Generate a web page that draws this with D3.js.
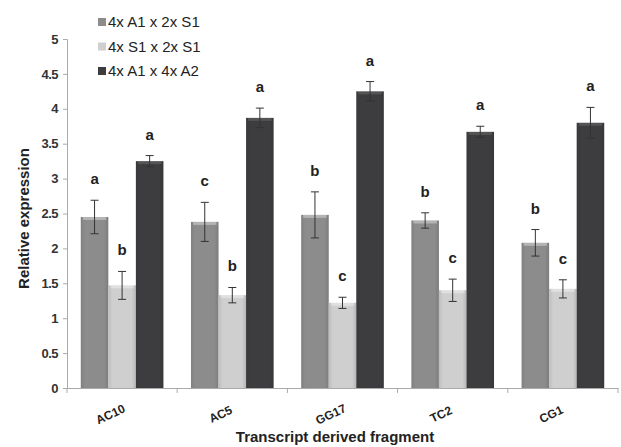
<!DOCTYPE html>
<html>
<head>
<meta charset="utf-8">
<script src="https://cdn.jsdelivr.net/npm/d3@7"></script>
<style>
  body { margin: 0; background: #fff; }
  text { font-family: Arial, "Liberation Sans", sans-serif; }
</style>
</head>
<body>
<div id="chart"></div>
<script>
// data
const fragments = ["AC10", "AC5", "GG17", "TC2", "CG1"];
const seriesNames = ["4x A1 x 2x S1", "4x S1 x 2x S1", "4x A1 x 4x A2"];
const crossA1S1 = [2.45, 2.38, 2.48, 2.40, 2.08];
const crossS1S1 = [1.47, 1.33, 1.22, 1.40, 1.42];
const crossA1A2 = [3.25, 3.87, 4.25, 3.67, 3.80];
const errA1S1 = [0.24, 0.28, 0.33, 0.11, 0.19];
const errS1S1 = [0.20, 0.11, 0.08, 0.16, 0.13];
const errA1A2 = [0.08, 0.14, 0.14, 0.08, 0.22];
const lettersA1S1 = ["a", "c", "b", "b", "b"];
const lettersS1S1 = ["b", "b", "c", "c", "c"];
const lettersA1A2 = ["a", "a", "a", "a", "a"];
const yTicks = [0, 0.5, 1, 1.5, 2, 2.5, 3, 3.5, 4, 4.5, 5];

const colors = ["#8c8c8c", "#cfcfcf", "#3d3d3f"];

const w = 621, h = 447;
const margin = {top: 39, right: 3, bottom: 59, left: 67};

const svg = d3.select("#chart").append("svg").attr("width", w).attr("height", h);

// soft shading like the original 3d-ish bars
const defs = svg.append("defs");
colors.forEach((c, i) => {
  const g = defs.append("linearGradient").attr("id", "grad" + i)
    .attr("x1", "0").attr("x2", "1").attr("y1", "0").attr("y2", "0");
  g.append("stop").attr("offset", "0%").attr("stop-color", d3.color(c).darker(0.25));
  g.append("stop").attr("offset", "15%").attr("stop-color", c);
  g.append("stop").attr("offset", "85%").attr("stop-color", c);
  g.append("stop").attr("offset", "100%").attr("stop-color", d3.color(c).darker(0.35));
});

const x = d3.scaleBand().domain(fragments)
  .range([margin.left, w - margin.right]).paddingInner(0).paddingOuter(0);
const inner = d3.scaleBand().domain(d3.range(3))
  .range([0, x.bandwidth()]).paddingInner(0).paddingOuter(0.5);
const y = d3.scaleLinear().domain([0, 5]).range([h - margin.bottom, margin.top]);

// axes
const yAxis = svg.append("g").attr("transform", `translate(${margin.left},0)`)
  .call(d3.axisLeft(y).tickValues(yTicks).tickSize(4).tickFormat(d3.format("")));
yAxis.select(".domain").attr("stroke", "#aaa");
yAxis.selectAll(".tick line").attr("stroke", "#aaa");
yAxis.selectAll(".tick text").attr("font-size", 13).attr("font-weight", "bold")
  .attr("fill", "#333").attr("x", -9).attr("letter-spacing", -0.5);

const xAxis = svg.append("g").attr("transform", `translate(0,${h - margin.bottom})`)
  .call(d3.axisBottom(x).tickSize(0).tickFormat(""));
xAxis.select(".domain").attr("stroke", "#aaa");
// separators between categories
svg.append("g").selectAll("line")
  .data(fragments.concat(["end"]))
  .enter().append("line")
  .attr("x1", (d, i) => margin.left + i * x.step())
  .attr("x2", (d, i) => margin.left + i * x.step())
  .attr("y1", h - margin.bottom).attr("y2", h - margin.bottom + 5)
  .attr("stroke", "#aaa");

// category labels, slanted
const labY = h - margin.bottom + 30;
svg.append("g").selectAll("text")
  .data(fragments).enter().append("text")
  .attr("x", d => x(d) + x.bandwidth() / 2 - 10)
  .attr("y", labY)
  .attr("transform", d => "rotate(-25," + (x(d) + x.bandwidth() / 2 - 10) + "," + labY + ")")
  .attr("text-anchor", "middle")
  .attr("font-size", 12).attr("font-weight", "bold").attr("fill", "#222")
  .text(d => d);

// bars
const series = [
  {vals: crossA1S1, err: errA1S1, letters: lettersA1S1},
  {vals: crossS1S1, err: errS1S1, letters: lettersS1S1},
  {vals: crossA1A2, err: errA1A2, letters: lettersA1A2}
];

const groups = svg.append("g").selectAll("g")
  .data(fragments).enter().append("g")
  .attr("transform", d => `translate(${x(d)},0)`);

groups.each(function(frag, fi) {
  const g = d3.select(this);
  series.forEach((s, si) => {
    const v = s.vals[fi], e = s.err[fi];
    const bx = inner(si), bw = inner.bandwidth();
    g.append("rect")
      .attr("x", bx).attr("width", bw)
      .attr("y", y(v)).attr("height", y(0) - y(v))
      .attr("fill", `url(#grad${si})`);
    // highlight cap on top
    g.append("rect")
      .attr("x", bx + 2).attr("width", bw - 4)
      .attr("y", y(v)).attr("height", 3)
      .attr("fill", "#fff").attr("opacity", si == 2 ? 0.12 : 0.35);
    const cx = bx + bw / 2;
    g.append("line").attr("x1", cx).attr("x2", cx)
      .attr("y1", y(v + e)).attr("y2", y(v - e))
      .attr("stroke", "#333").attr("stroke-width", 1);
    [v + e, v - e].forEach(t => {
      g.append("line").attr("x1", cx - 4).attr("x2", cx + 4)
        .attr("y1", y(t)).attr("y2", y(t))
        .attr("stroke", "#333").attr("stroke-width", 1);
    });
    g.append("text")
      .attr("x", cx).attr("y", y(v + e) - 16)
      .attr("text-anchor", "middle")
      .attr("font-size", 15).attr("font-weight", "bold").attr("fill", "#222")
      .text(s.letters[fi]);
  });
});

// axis titles
svg.append("text")
  .attr("transform", `translate(29,${(margin.top + h - margin.bottom) / 2 + 5}) rotate(-90)`)
  .attr("text-anchor", "middle")
  .attr("font-size", 15).attr("font-weight", "bold").attr("fill", "#222")
  .text("Relative expression");

svg.append("text")
  .attr("x", 335).attr("y", 442)
  .attr("text-anchor", "middle")
  .attr("font-size", 15).attr("font-weight", "bold").attr("fill", "#222")
  .text("Transcript derived fragment");

// legend
const legend = svg.append("g").selectAll("g")
  .data(seriesNames).enter().append("g")
  .attr("transform", (d, i) => `translate(98,${22 + i * 24.5})`);
legend.append("rect")
  .attr("x", 0).attr("y", -4).attr("width", 8).attr("height", 8)
  .attr("fill", (d, i) => colors[i]);
legend.append("text")
  .attr("x", 10).attr("y", 5)
  .attr("font-size", 15).attr("fill", "#222")
  .text(d => d);
</script>
</body>
</html>
